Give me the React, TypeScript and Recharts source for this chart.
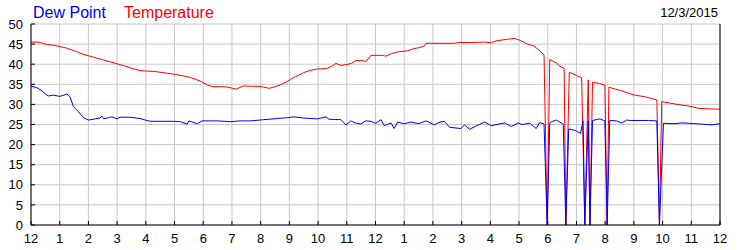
import React from 'react';
import { LineChart, Line, XAxis, YAxis, CartesianGrid } from 'recharts';

const FONT = "Arial, 'Liberation Sans', sans-serif";

const hourTicks = [0, 1, 2, 3, 4, 5, 6, 7, 8, 9, 10, 11, 12, 13, 14, 15, 16, 17, 18, 19, 20, 21, 22, 23, 24];
const hourLabels = ['12', '1', '2', '3', '4', '5', '6', '7', '8', '9', '10', '11', '12', '1', '2', '3', '4', '5', '6', '7', '8', '9', '10', '11', '12'];
const valueTicks = [0, 5, 10, 15, 20, 25, 30, 35, 40, 45, 50];

const seriesNames = ['Dew Point', 'Temperature'];
const dateLabel = '12/3/2015';

const tempHours = [
  0.0, 0.25, 0.4, 0.55, 0.8, 1.0, 1.2, 1.4, 1.6, 1.8, 2.0, 2.25, 2.5, 2.75, 3.0, 3.25, 3.5, 3.8, 4.0, 4.3,
  4.6, 5.0, 5.3, 5.55, 5.75, 5.95, 6.15, 6.35, 6.6, 6.85, 7.15, 7.4, 7.65, 7.9, 8.1, 8.3, 8.5, 8.7, 8.9, 9.05,
  9.3, 9.5, 9.7, 9.95, 10.3, 10.5, 10.62, 10.8, 11.0, 11.15, 11.32, 11.5, 11.67, 11.84, 12.25, 12.36, 12.55, 12.8, 13.12, 13.3,
  13.5, 13.7, 13.76, 14.75, 14.9, 15.35, 15.8, 16.03, 16.2, 16.6, 16.85, 17.05, 17.3, 17.5, 17.7, 17.87, 17.98, 18.07, 18.3, 18.48,
  18.57, 18.63, 18.75, 19.0, 19.18, 19.29, 19.41, 19.47, 19.56, 19.8, 19.99, 20.07, 20.13, 20.35, 20.57, 20.8, 21.04, 21.39, 21.6, 21.8,
  21.89, 21.97, 22.2, 22.43, 22.7, 22.9, 23.1, 23.25, 23.6, 24.0,
];
const tempValues = [
  45.5, 45.5, 45.2, 44.9, 44.7, 44.4, 44.1, 43.6, 43.1, 42.5, 42.1, 41.6, 41.1, 40.6, 40.1, 39.6, 39.0, 38.4, 38.3, 38.2,
  37.9, 37.5, 37.1, 36.7, 36.2, 35.6, 34.8, 34.4, 34.4, 34.3, 33.8, 34.6, 34.5, 34.5, 34.3, 34.0, 34.4, 34.9, 35.6, 36.3,
  37.2, 37.9, 38.4, 38.8, 38.9, 39.6, 40.2, 39.7, 39.9, 40.2, 40.9, 40.9, 40.7, 42.2, 42.2, 42.0, 42.6, 43.1, 43.3, 43.8,
  44.1, 44.5, 45.2, 45.2, 45.4, 45.4, 45.5, 45.3, 45.8, 46.2, 46.4, 45.9, 45.0, 44.6, 43.5, 42.3, 0, 41.2, 40.3, 39.2,
  39.0, 0, 38.0, 37.2, 36.6, 0, 36.1, 0, 35.5, 35.2, 34.8, 0, 34.3, 33.8, 33.4, 32.8, 32.3, 31.9, 31.5, 31.1,
  0, 30.7, 30.4, 30.1, 29.8, 29.6, 29.3, 29.0, 28.9, 28.8,
];

const dewHours = [
  0.0, 0.2, 0.37, 0.5, 0.6, 0.78, 1.0, 1.15, 1.25, 1.36, 1.48, 1.65, 1.83, 2.0, 2.24, 2.4, 2.47, 2.53, 2.7, 2.82,
  3.0, 3.1, 3.45, 3.8, 3.98, 4.16, 4.97, 5.2, 5.44, 5.5, 5.79, 5.96, 6.48, 6.95, 7.3, 7.65, 8.11, 8.6, 8.93, 9.16,
  9.5, 9.98, 10.27, 10.38, 10.8, 10.97, 11.14, 11.3, 11.49, 11.65, 11.84, 12.0, 12.19, 12.31, 12.54, 12.65, 12.77, 13.0, 13.24, 13.5,
  13.76, 14.05, 14.2, 14.4, 14.58, 14.98, 15.1, 15.28, 15.5, 15.8, 16.03, 16.3, 16.5, 16.73, 16.97, 17.1, 17.37, 17.6, 17.72, 17.87,
  17.98, 18.07, 18.13, 18.3, 18.54, 18.63, 18.73, 18.96, 19.14, 19.23, 19.29, 19.41, 19.47, 19.56, 19.82, 19.99, 20.07, 20.16, 20.4, 20.57,
  20.75, 20.87, 21.51, 21.8, 21.89, 22.03, 22.4, 22.67, 22.9, 23.37, 23.72, 24.0,
];
const dewValues = [
  34.5, 34.2, 33.4, 32.6, 32.1, 32.3, 32.0, 32.3, 32.6, 31.9, 29.4, 28.2, 26.7, 26.1, 26.4, 26.6, 27.1, 26.4, 26.7, 26.9,
  26.4, 26.8, 26.8, 26.5, 26.1, 25.8, 25.8, 25.7, 25.1, 25.9, 25.2, 25.9, 25.9, 25.7, 25.9, 25.9, 26.2, 26.5, 26.7, 26.9,
  26.6, 26.4, 26.9, 26.3, 26.2, 24.9, 25.9, 25.4, 25.1, 25.9, 25.8, 25.3, 26.2, 24.7, 25.4, 24.0, 25.6, 25.2, 25.6, 25.2,
  25.9, 24.9, 25.5, 25.8, 24.3, 24.0, 24.9, 23.8, 24.6, 25.6, 24.7, 25.1, 25.4, 24.5, 25.4, 25.0, 25.3, 24.0, 25.5, 25.1,
  0, 25.3, 25.7, 26.1, 25.1, 0, 23.9, 23.5, 22.8, 25.9, 0, 25.9, 0, 26.0, 26.4, 25.9, 0, 26.0, 25.9, 25.4,
  26.1, 26.0, 26.0, 25.9, 0, 25.3, 25.2, 25.4, 25.3, 25.1, 24.9, 25.2,
];

const tempData = tempHours.map((h, i) => ({ h, v: tempValues[i] }));
const dewData = dewHours.map((h, i) => ({ h, v: dewValues[i] }));

const tickStyle = { fill: '#000', fontSize: 13, fontFamily: FONT };
const black = { stroke: '#000' };

export default function App() {
  return (
    <div style={{ position: 'relative', width: 750, height: 250, background: '#fff' }}>
      <style>{'body{margin:0;background:#fff}'}</style>
      <LineChart
        width={750}
        height={250}
        margin={{ top: 24, right: 0, bottom: 0, left: 0 }}
      >
        <CartesianGrid stroke="#c8c8c8" />
        <XAxis
          dataKey="h"
          type="number"
          domain={[0, 24]}
          ticks={hourTicks}
          interval={0}
          allowDataOverflow
          height={25}
          tickFormatter={(h: number) => hourLabels[h]}
          tick={tickStyle}
          tickSize={-4}
          tickMargin={13}
          axisLine={black}
          tickLine={black}
        />
        <XAxis
          xAxisId="top"
          orientation="top"
          dataKey="h"
          type="number"
          domain={[0, 24]}
          ticks={hourTicks}
          interval={0}
          height={0}
          tick={false}
          tickSize={-4}
          axisLine={black}
          tickLine={black}
        />
        <YAxis
          yAxisId={0}
          type="number"
          domain={[0, 50]}
          ticks={valueTicks}
          interval={0}
          width={31}
          tick={tickStyle}
          tickSize={-4}
          tickMargin={12}
          axisLine={black}
          tickLine={black}
        />
        <YAxis
          yAxisId="right"
          orientation="right"
          type="number"
          domain={[0, 50]}
          ticks={valueTicks}
          interval={0}
          width={30}
          tick={tickStyle}
          tickSize={-4}
          tickMargin={11}
          axisLine={black}
          tickLine={black}
        />
        <Line
          data={tempData}
          dataKey="v"
          name={seriesNames[1]}
          type="linear"
          stroke="#ff0000"
          strokeWidth={1}
          dot={false}
          isAnimationActive={false}
        />
        <Line
          data={dewData}
          dataKey="v"
          name={seriesNames[0]}
          type="linear"
          stroke="#0000ff"
          strokeWidth={1}
          dot={false}
          isAnimationActive={false}
        />
      </LineChart>
      <svg
        width={750}
        height={24}
        style={{ position: 'absolute', left: 0, top: 0, pointerEvents: 'none' }}
      >
        <text x={33} y={18} fontFamily={FONT} fontSize={16} fill="#0000ff">{seriesNames[0]}</text>
        <text x={124} y={18} fontFamily={FONT} fontSize={16} fill="#ff0000">{seriesNames[1]}</text>
        <text x={718} y={17} fontFamily={FONT} fontSize={13} fill="#000" textAnchor="end">{dateLabel}</text>
      </svg>
    </div>
  );
}
